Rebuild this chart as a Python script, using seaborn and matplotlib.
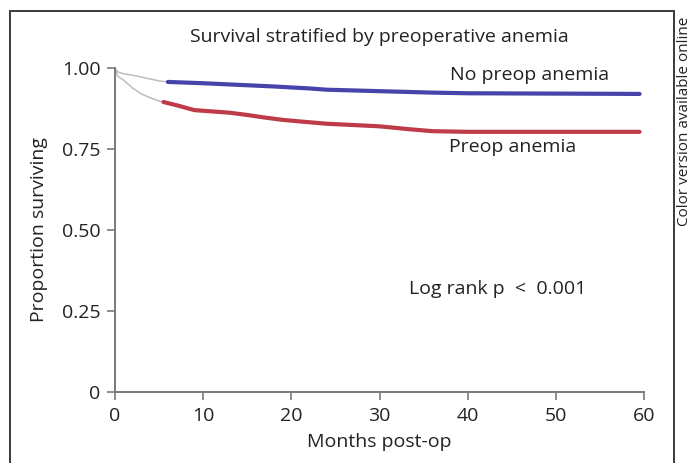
import numpy as np
import pandas as pd
import seaborn as sns
import matplotlib
matplotlib.use("Agg")
import matplotlib.pyplot as plt
from matplotlib.patches import Rectangle

# Kaplan-Meier estimates (months post-op vs. proportion surviving)
no_anemia_early_t = [0, 0.3, 1, 2, 3, 4, 5, 6]
no_anemia_early_s = [1.0, 0.988, 0.982, 0.978, 0.972, 0.966, 0.960, 0.957]
no_anemia_t = [6, 10, 14, 18, 22, 24, 28, 32, 36, 40, 50, 59.5]
no_anemia_s = [0.957, 0.953, 0.948, 0.943, 0.937, 0.933, 0.930, 0.927, 0.924, 0.922, 0.921, 0.920]

anemia_early_t = [0, 0.3, 1, 2, 3, 4, 5, 5.5]
anemia_early_s = [1.0, 0.975, 0.962, 0.938, 0.920, 0.908, 0.898, 0.895]
anemia_t = [5.5, 7, 9, 11, 13, 15, 17, 19, 21, 24, 27, 30, 33, 36, 40, 50, 59.5]
anemia_s = [0.895, 0.885, 0.870, 0.866, 0.862, 0.855, 0.847, 0.840, 0.835, 0.828,
            0.824, 0.820, 0.812, 0.805, 0.803, 0.803, 0.803]

x_ticks = [0, 10, 20, 30, 40, 50, 60]
y_ticks = [0, 0.25, 0.50, 0.75, 1.00]
y_tick_labels = ["0", "0.25", "0.50", "0.75", "1.00"]

sns.set_theme(style="white")
plt.rcParams["font.family"] = ["Open Sans", "DejaVu Sans"]

FS = 14
INK = "#222222"

fig = plt.figure(figsize=(6.91, 4.63), dpi=100)
ax = fig.add_axes([115 / 691, 1 - 392 / 463, (644 - 115) / 691, (392 - 68) / 463])

early = pd.DataFrame({
    "t": no_anemia_early_t + anemia_early_t,
    "s": no_anemia_early_s + anemia_early_s,
    "g": ["none"] * len(no_anemia_early_t) + ["anemia"] * len(anemia_early_t),
})
late = pd.DataFrame({
    "t": no_anemia_t + anemia_t,
    "s": no_anemia_s + anemia_s,
    "g": ["none"] * len(no_anemia_t) + ["anemia"] * len(anemia_t),
})

sns.lineplot(data=early, x="t", y="s", hue="g", palette={"none": "#bdbdbd", "anemia": "#bdbdbd"},
             linewidth=1.1, legend=False, ax=ax, clip_on=False, estimator=None, sort=False)
sns.lineplot(data=late, x="t", y="s", hue="g", palette={"none": "#2c2a9e", "anemia": "#b5202f"},
             linewidth=3.0, alpha=0.88, legend=False, ax=ax, clip_on=False, estimator=None, sort=False)

ax.set_xlim(0, 60)
ax.set_ylim(0, 1.0)
ax.set_xticks(x_ticks)
ax.set_yticks(y_ticks)
ax.set_yticklabels(y_tick_labels)

for side in ["top", "right"]:
    ax.spines[side].set_visible(False)
for side in ["left", "bottom"]:
    ax.spines[side].set_color("#7a7a7a")
    ax.spines[side].set_linewidth(1.4)

ax.tick_params(axis="both", which="major", direction="out", length=5.5, width=1.2,
               color="#7a7a7a", labelsize=FS, labelcolor=INK, pad=5,
               left=True, bottom=True)
ax.set_xlabel("Months post-op", fontsize=FS, color=INK, labelpad=6)
ax.set_ylabel("Proportion surviving", fontsize=FS, color=INK, labelpad=10)

ax.text(30.0, 1.095, "Survival stratified by preoperative anemia", ha="center", va="center",
        fontsize=FS, color=INK, clip_on=False)
ax.text(47.0, 0.977, "No preop anemia", ha="center", va="center", fontsize=FS, color=INK)
ax.text(45.1, 0.757, "Preop anemia", ha="center", va="center", fontsize=FS, color=INK)
ax.text(43.4, 0.318, "Log rank p  <  0.001", ha="center", va="center", fontsize=FS, color=INK)

# Outer frame around the panel
fig.patches.append(Rectangle((10 / 691, -0.05), (674 - 10) / 691, 1.05 - 11 / 463,
                             transform=fig.transFigure, fill=False,
                             edgecolor="#3a3a3a", linewidth=1.4))
fig.text(684 / 691, 1 - 121 / 463, "Color version available online", rotation=90,
         ha="center", va="center", fontsize=11, color=INK)

fig.savefig("out.png", dpi=100)
